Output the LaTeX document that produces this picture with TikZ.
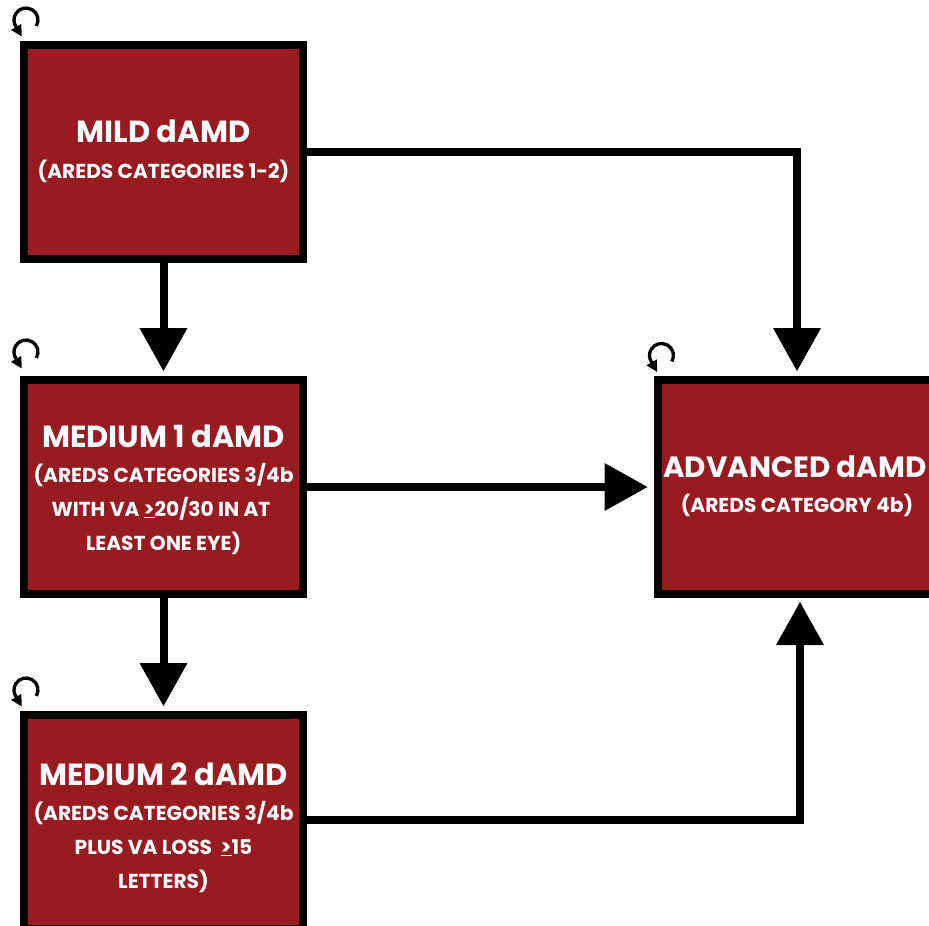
\documentclass[tikz,border=0pt]{standalone}
\usepackage{fontspec}
\setmainfont{Poppins}
\usetikzlibrary{arrows.meta}
\definecolor{boxred}{HTML}{971B1F}
\begin{document}
\begin{tikzpicture}[x=1pt,y=1pt,
  stagebox/.style={draw=black, fill=boxred, line width=8pt, minimum width=279pt, minimum height=214pt, inner sep=0pt, outer sep=0pt},
  ttl/.style={anchor=base, text=white, font=\fontsize{30.5}{32}\selectfont\bfseries, inner sep=0pt},
  sub/.style={anchor=base, text=white, font=\fontsize{20.2}{22}\selectfont\bfseries, inner sep=0pt},
  flow/.style={line width=8pt, -{Triangle[width=48pt,length=43pt,line width=0pt]}},
  cyc/.style={line width=3.3pt, -{Triangle[width=12pt,length=11pt,line width=0pt]}}
]
\useasboundingbox (0,0) rectangle (929,-926);
% boxes
\node[stagebox] (mild) at (163.5,-152) {};
\node[stagebox] (medone) at (163.5,-487) {};
\node[stagebox] (medtwo) at (163.5,-822) {};
\node[stagebox] (adv) at (797,-487) {};
% texts
\node[ttl] (t1) at (163.5,-142) {MILD dAMD};
\node[sub] (s1) at (163.5,-178) {(AREDS CATEGORIES 1-2)};
\node[ttl] (t2) at (163.5,-447) {MEDIUM 1 dAMD};
\node[sub] (s2a) at (163.5,-482) {(AREDS CATEGORIES 3/4b};
\node[sub] (s2b) at (161,-516) {WITH VA \underline{>}20/30 IN AT};
\node[sub] (s2c) at (163.5,-550) {LEAST ONE EYE)};
\node[ttl] (t3) at (163.5,-785) {MEDIUM 2 dAMD};
\node[sub] (s3a) at (163.5,-820) {(AREDS CATEGORIES 3/4b};
\node[sub] (s3b) at (163.5,-854) {PLUS VA LOSS\ \ \underline{>}15};
\node[sub] (s3c) at (163.5,-888) {LETTERS)};
\node[ttl, font=\fontsize{29.3}{32}\selectfont\bfseries] (t4) at (795,-477) {ADVANCED dAMD};
\node[sub] (s4) at (797,-512) {(AREDS CATEGORY 4b)};
% connectors
\draw[flow, shorten >=9pt] (mild.south) -- (medone.north);
\draw[flow, shorten >=9pt] (medone.south) -- (medtwo.north);
\draw[flow, shorten >=9pt] (mild.east) -| (adv.north);
\draw[flow, shorten >=10pt] (medone.east) -- (adv.west);
\coordinate (advin) at ([xshift=3pt]adv.south);
\draw[flow, shorten >=8pt] ([yshift=2pt]medtwo.east) -| (advin);
% cycle icons
\foreach \b/\dx/\dy in {mild/2/25, medone/2/28, medtwo/2/25, adv/4/24.5}{
  \draw[cyc] ([shift={(\dx,\dy)}]\b.north west) ++(-30:12pt) arc[start angle=-30, end angle=215, radius=12pt] -- ++(-60:11pt);
}
\end{tikzpicture}
\end{document}
